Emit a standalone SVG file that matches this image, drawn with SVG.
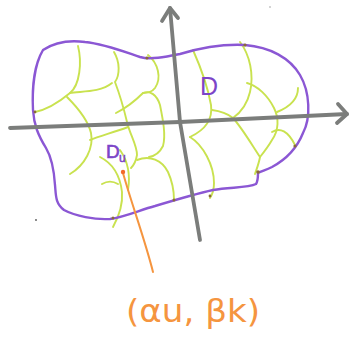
<svg xmlns="http://www.w3.org/2000/svg" width="350" height="344" viewBox="0 0 350 344">
<style>
.g{fill:none;stroke:#c9e24f;stroke-width:1.9;stroke-linecap:round}
.ax{fill:none;stroke:#7b7d7b;stroke-width:3.8;stroke-linecap:round;stroke-linejoin:round}
.pu{fill:none;stroke:#8b57d4;stroke-width:2.4;stroke-linejoin:round}
.dot{fill:#8a6a3a}
.pt{fill:#7c45c8;font-family:"Liberation Sans",Arial,sans-serif}
.ot{fill:#f5953f;font-family:"DejaVu Sans","Liberation Sans",sans-serif}
</style>
<rect width="350" height="344" fill="#ffffff"/>
<g id="grid">
<path class="g" d="M78,46 C82,62 80,85 70,93 C58,103 45,110 35,112"/>
<path class="g" d="M70,93 C80,91 100,93 112,83"/>
<path class="g" d="M67,97 C78,108 88,120 91,133 C94,148 85,165 70,174"/>
<path class="g" d="M114,52 C120,62 120,75 115,82 C118,90 123,105 127,122 C130,135 137,145 137,155 C136,161 134,165 131,168"/>
<path class="g" d="M90,140 C100,136 115,132 128,127"/>
<path class="g" d="M148,55 C158,63 162,78 155,88 C152,92 147,93 143,93"/>
<path class="g" d="M116,113 C126,108 136,100 143,93 C150,90 157,95 160,105 C163,120 166,135 163,146 C160,152 155,156 149,157"/>
<path class="g" d="M137,160 C150,155 162,160 168,172 C173,183 174,192 174,200"/>
<path class="g" d="M100,157 C112,163 120,175 122,192 C123,205 118,218 113,227"/>
<path class="g" d="M102,184 C107,181 113,181 118,184"/>
<path class="g" d="M120,150 C127,160 131,172 128,190"/>
<path class="g" d="M193,50 C201,68 208,88 211,105 C213,120 205,130 190,137"/>
<path class="g" d="M190,137 C203,145 214,165 214,183 C214,190 212,195 210,198"/>
<path class="g" d="M240,42 C250,55 254,75 250,92 C247,105 240,113 233,118"/>
<path class="g" d="M212,110 C220,111 228,114 233,118 C242,128 252,145 260,157 C259,163 257,168 255,174"/>
<path class="g" d="M247,83 C258,86 268,96 274,108 C279,118 279,130 272,140 C268,147 264,152 260,157"/>
<path class="g" d="M298,88 C298,98 292,106 277,112"/>
<path class="g" d="M272,132 C280,127 288,131 295,145"/>
</g>
<g id="boundary">
<path class="pu" d="M43,50 C55,42 70,40 85,42 C105,44 125,52 140,57 C150,60 165,57 180,54 C200,48 225,44 245,45 C270,47 290,58 300,75 C310,92 311,118 303,133 C297,148 285,160 272,167 C266,170 262,171 258,173 C258,178 258,181 256,184 C248,188 230,187 213,190 C195,194 175,200 155,206 C140,210 125,217 110,219 C95,220 75,216 64,210 C55,203 56,195 55,185 C54,170 52,158 46,148 C38,135 34,125 33,110 C32,90 34,65 43,50 Z"/>
<circle class="dot" cx="147" cy="58" r="1.6"/>
<circle class="dot" cx="245" cy="45" r="1.6"/>
<circle class="dot" cx="35" cy="112" r="1.4"/>
<circle class="dot" cx="295" cy="146" r="1.6"/>
<circle class="dot" cx="258" cy="172" r="1.8"/>
<circle class="dot" cx="174" cy="200" r="1.5"/>
<circle class="dot" cx="113" cy="218" r="1.5"/>
<circle class="dot" cx="210" cy="196" r="1.4"/>
</g>
<g id="axes">
<path class="ax" d="M10,128 L180,122 L347,114"/>
<path class="ax" d="M338,104 L347,114 L337,123"/>
<path class="ax" d="M170,8 L180,122 L200,240"/>
<path class="ax" d="M162,21 L170,8 L178,18"/>
</g>
<g id="labels">
<text class="pt" x="200" y="95" font-size="25">D</text>
<text class="pt" x="106" y="158" font-size="19" stroke="#7c45c8" stroke-width="0.6">D</text>
<text class="pt" x="119" y="162" font-size="12" stroke="#7c45c8" stroke-width="0.5">u</text>
</g>
<g id="pointer">
<path d="M123,173 C132,205 145,240 153,272" fill="none" stroke="#f5953f" stroke-width="2" stroke-linecap="round"/>
<circle cx="123" cy="172" r="2.2" fill="#f36a2a"/>
<text class="ot" x="126" y="322" font-size="32" textLength="134" lengthAdjust="spacingAndGlyphs">(αu, βk)</text>
</g>
<circle cx="36" cy="220" r="0.9" fill="#555"/>
<circle cx="270" cy="7" r="0.7" fill="#888"/>
</svg>
